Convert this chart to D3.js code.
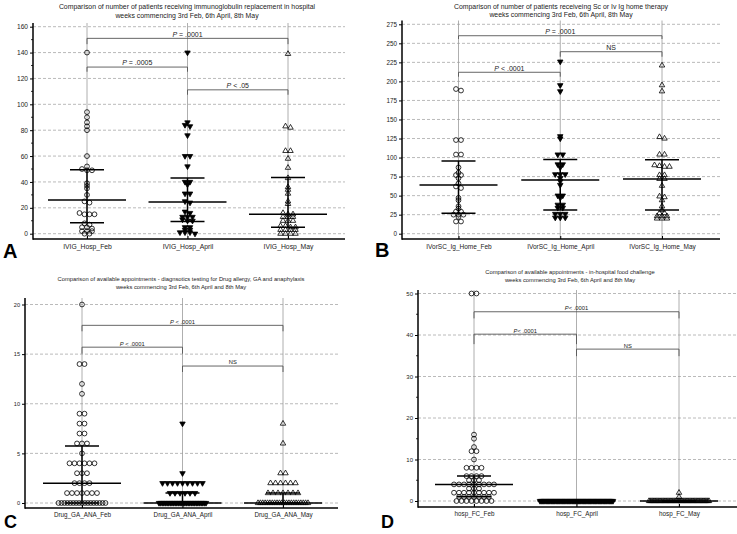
<!DOCTYPE html>
<html><head><meta charset="utf-8">
<script src="https://cdn.jsdelivr.net/npm/d3@7"></script>
<style>
body{margin:0;background:#fff}
svg{display:block}
text{font-family:"Liberation Sans",Arial,Helvetica,sans-serif}
</style>
</head><body>
<svg id="chart" width="737" height="534"></svg>
<script>
// ---------------- DATA ----------------
const catsA = ["IVIG_Hosp_Feb", "IVIG_Hosp_April", "IVIG_Hosp_May"];
const aFeb = [140, 94, 90, 86, 83, 80, 60, 52, 50, 49, 49, 39, 37, 35, 30, 25, 24, 16, 15, 15, 15, 8, 7, 5, 5, 4, 2, 2, 2, 0, 0];
const aApril = [140, 86, 84, 83, 76, 60, 60, 52, 40, 40, 38, 31, 31, 25, 24, 17, 16, 13, 13, 13, 11, 10, 10, 5, 5, 3, 3, 1, 1, 1, 0];
const aMay = [139, 83, 82, 64, 64, 58, 51, 43, 36, 34, 31, 25, 23, 16, 15, 15, 13, 13, 13, 10, 10, 10, 6, 6, 5, 5, 3, 3, 3, 3, 0, 0, 0, 0];
const medianA = [26, 24.5, 15];
const q1A = [8.5, 9.5, 5];
const q3A = [49.5, 43, 43.5];
const ticksA = [0, 20, 40, 60, 80, 100, 120, 140, 160];
const minorA = [10, 30, 50, 70, 90, 110, 130, 150];
const bracketsA = [
  ["IVIG_Hosp_Feb", "IVIG_Hosp_May", 151, 146.5, "P = .0001"],
  ["IVIG_Hosp_Feb", "IVIG_Hosp_April", 128.8, 125.2, "P = .0005"],
  ["IVIG_Hosp_April", "IVIG_Hosp_May", 111.2, 107.4, "P < .05"]
];
const titleA = ["Comparison of number of patients receiving immunoglobulin replacement in hospital",
                "weeks commencing 3rd Feb, 6th April, 8th May"];

const catsB = ["IVorSC_Ig_Home_Feb", "IVorSC_Ig_Home_April", "IVorSC_Ig_Home_May"];
const bFeb = [190, 188, 123, 123, 104, 104, 87, 80, 77, 77, 73, 66, 62, 60, 47, 44, 36, 33, 29, 29, 25, 25, 25, 22, 16, 16];
const bApril = [226, 195, 187, 128, 125, 104, 104, 91, 91, 87, 78, 78, 78, 73, 69, 64, 50, 50, 47, 38, 38, 34, 34, 26, 26, 26, 21, 21, 21];
const bMay = [221, 195, 187, 127, 125, 104, 104, 90, 89, 88, 88, 77, 77, 72, 72, 63, 49, 48, 44, 36, 31, 27, 27, 23, 23, 23, 20, 20, 20];
const medianB = [64, 70.5, 72];
const q1B = [27, 31, 31];
const q3B = [95.5, 97.5, 97];
const ticksB = [0, 25, 50, 75, 100, 125, 150, 175, 200, 225, 250, 275];
const minorB = [];
const bracketsB = [
  ["IVorSC_Ig_Home_Feb", "IVorSC_Ig_Home_May", 260, 255.7, "P = .0001"],
  ["IVorSC_Ig_Home_April", "IVorSC_Ig_Home_May", 239, 232.4, "NS"],
  ["IVorSC_Ig_Home_Feb", "IVorSC_Ig_Home_April", 212, 206.2, "P < .0001"]
];
const titleB = ["Comparison of number of patients receiveing Sc or Iv Ig home therapy",
                "weeks commencing 3rd Feb, 6th April, 8th May"];

// [value, number of points at that value]
const catsC = ["Drug_GA_ANA_Feb", "Drug_GA_ANA_April", "Drug_GA_ANA_May"];
const cFeb = [[20,1],[14,2],[12,1],[11,1],[9,2],[8,2],[7,2],[6,3],[5,1],[4,6],[3,3],[2,4],[1,7],[0,17]];
const cApril = [[8,1],[3,1],[2,9],[1,6],[0,30]];
const cMay = [[8,1],[6,1],[3,2],[2,6],[1,7],[0,22]];
const medianC = [2, 0, 0];
const q1C = [0, 0, 0];
const q3C = [5.75, 1, 1];
const ticksC = [0, 5, 10, 15, 20];
const minorC = [];
const bracketsC = [
  ["Drug_GA_ANA_Feb", "Drug_GA_ANA_May", 17.9, 17.3, "P < .0001"],
  ["Drug_GA_ANA_Feb", "Drug_GA_ANA_April", 15.7, 15.05, "P < .0001"],
  ["Drug_GA_ANA_April", "Drug_GA_ANA_May", 13.8, 13.2, "NS"]
];
const titleC = ["Comparison of available appointments  - diagnsotics testing for Drug allergy, GA and anaphylaxis",
                "weeks commencing 3rd Feb, 6th April and 8th May"];

const catsD = ["hosp_FC_Feb", "hosp_FC_April", "hosp_FC_May"];
const dFeb = [[50,2],[16,1],[15,1],[13,1],[12,2],[10,1],[8,4],[6,4],[5,3],[4,9],[3,3],[2,9],[1,7],[0,8]];
const dApril = [[0,60]];
const dMay = [[2,1],[1,1],[0,50]];
const medianD = [4, 0, 0];
const q1D = [1, 0, 0];
const q3D = [6, 0, 0];
const ticksD = [0, 10, 20, 30, 40, 50];
const minorD = [5, 15, 25, 35, 45];
const bracketsD = [
  ["hosp_FC_Feb", "hosp_FC_May", 45.6, 44, "P< .0001"],
  ["hosp_FC_Feb", "hosp_FC_April", 40.2, 37.8, "P< .0001"],
  ["hosp_FC_April", "hosp_FC_May", 36.6, 34.9, "NS"]
];
const titleD = ["Comparison of available appointments - in-hospital food challenge",
                "weeks commencing 3rd Feb, 6th April and 8th May"];

// ---------------- HELPERS ----------------
const expand = pairs => pairs.flatMap(([v, n]) => Array.from({length: n}, () => v));

const svg = d3.select("#chart");
const markerKinds = ["circle", "down", "up"];

function layoutPoints(vals, cx, y, d, maxW, tol) {
  const pts = vals.map(v => ({v, py: y(v)})).sort((a, b) => a.py - b.py);
  const clusters = [];
  let cur = null;
  pts.forEach(p => {
    if (cur && Math.abs(p.py - cur[0].py) <= tol) cur.push(p);
    else { cur = [p]; clusters.push(cur); }
  });
  const out = [];
  clusters.forEach(c => {
    const n = c.length;
    const s = n > 1 ? Math.min(d, (maxW - d) / (n - 1)) : 0;
    c.forEach((p, i) => out.push({x: cx + (i - (n - 1) / 2) * s, y: p.py}));
  });
  return out;
}

function drawPanel(p) {
  const g = svg.append("g");
  const y = d3.scaleLinear().domain(p.domain).range(p.yRange);
  const x = d3.scalePoint().domain(p.cats).range(p.xRange);

  // horizontal dashed gridlines
  g.append("g").selectAll("line").data(p.ticks).join("line")
    .attr("x1", p.axisX).attr("x2", p.xEnd)
    .attr("y1", d => y(d)).attr("y2", d => y(d))
    .attr("stroke", "#a8a8a8").attr("stroke-width", 0.8).attr("stroke-dasharray", "3,2");

  // vertical category lines
  g.append("g").selectAll("line").data(p.cats).join("line")
    .attr("x1", d => x(d)).attr("x2", d => x(d))
    .attr("y1", p.axisTop).attr("y2", p.axisBottom)
    .attr("stroke", "#9a9a9a").attr("stroke-width", 0.8);

  // brackets
  const bg = g.append("g");
  p.brackets.forEach(([c1, c2, v, dv, label]) => {
    const x1 = x(c1), x2 = x(c2);
    bg.append("path")
      .attr("d", `M${x1},${y(dv)}V${y(v)}H${x2}V${y(dv)}`)
      .attr("fill", "none").attr("stroke", "#555").attr("stroke-width", 0.9);
    const t = bg.append("text").attr("x", (x1 + x2) / 2).attr("y", y(v) - 1.6)
      .attr("text-anchor", "middle").attr("font-size", p.brFont).attr("fill", "#222");
    if (label[0] === "P") {
      t.append("tspan").attr("font-style", "italic").text("P");
      t.append("tspan").text(label.slice(1));
    } else t.text(label);
  });

  // y axis
  const ya = d3.axisLeft(y).tickValues(p.ticks).tickSize(3).tickPadding(2).tickFormat(d3.format("d"));
  const yg = g.append("g").attr("transform", `translate(${p.axisX},0)`).call(ya);
  yg.select(".domain").remove();
  yg.selectAll(".tick line").attr("stroke", "#000").attr("stroke-width", 1);
  yg.selectAll("text").attr("font-size", p.tickFont).attr("fill", "#222")
    .style("font-family", '"Liberation Sans",Arial,sans-serif');
  // minor ticks
  g.append("g").selectAll("line").data(p.minor).join("line")
    .attr("x1", p.axisX - 2).attr("x2", p.axisX)
    .attr("y1", d => y(d)).attr("y2", d => y(d))
    .attr("stroke", "#000").attr("stroke-width", 0.8);
  g.append("line").attr("x1", p.axisX).attr("x2", p.axisX)
    .attr("y1", p.axisTop).attr("y2", p.axisBottom + 0.7)
    .attr("stroke", "#000").attr("stroke-width", 1.5);

  // x axis
  const xa = d3.axisBottom(x).tickSize(-3).tickPadding(p.xPad);
  const xg = g.append("g").attr("transform", `translate(0,${p.axisBottom})`).call(xa);
  xg.select(".domain").remove();
  xg.selectAll(".tick line").attr("stroke", "#000");
  xg.selectAll("text").attr("font-size", p.catFont).attr("fill", "#222")
    .style("font-family", '"Liberation Sans",Arial,sans-serif');
  g.append("line").attr("x1", p.axisX).attr("x2", p.xEnd)
    .attr("y1", p.axisBottom).attr("y2", p.axisBottom)
    .attr("stroke", "#000").attr("stroke-width", 1.5);

  // points
  const pg = g.append("g");
  p.groups.forEach((vals, i) => {
    const cx = x(p.cats[i]);
    const pts = layoutPoints(vals, cx, y, 5, p.maxW[i], 2.2);
    const kind = markerKinds[i];
    if (kind === "circle") {
      pg.append("g").selectAll("circle").data(pts).join("circle")
        .attr("cx", d => d.x).attr("cy", d => d.y).attr("r", 2.4)
        .attr("fill", "none").attr("stroke", "#000").attr("stroke-width", 0.8);
    } else {
      const sym = d3.symbol(d3.symbolTriangle, 13);
      pg.append("g").selectAll("path").data(pts).join("path")
        .attr("d", sym)
        .attr("transform", d => `translate(${d.x},${d.y})` + (kind === "down" ? " rotate(180)" : ""))
        .attr("fill", kind === "down" ? "#000" : "none")
        .attr("stroke", "#000").attr("stroke-width", 0.8);
    }
  });

  // median / quartile lines
  const sg = g.append("g").attr("stroke", "#000").attr("stroke-width", 1.5);
  p.cats.forEach((c, i) => {
    const cx = x(c);
    sg.append("line").attr("x1", cx - 39).attr("x2", cx + 39)
      .attr("y1", y(p.median[i])).attr("y2", y(p.median[i]));
    sg.append("line").attr("x1", cx - 17).attr("x2", cx + 17)
      .attr("y1", y(p.q1[i])).attr("y2", y(p.q1[i]));
    sg.append("line").attr("x1", cx - 17).attr("x2", cx + 17)
      .attr("y1", y(p.q3[i])).attr("y2", y(p.q3[i]));
    sg.append("line").attr("x1", cx).attr("x2", cx)
      .attr("y1", y(p.q1[i])).attr("y2", y(p.q3[i]));
  });

  // title
  p.title.forEach((t, i) => {
    g.append("text").attr("x", p.titleX).attr("y", p.titleY[i])
      .attr("text-anchor", "middle").attr("font-size", p.titleFont).attr("fill", "#222").text(t);
  });

  // panel letter
  g.append("text").attr("x", p.letterPos[0]).attr("y", p.letterPos[1])
    .attr("font-size", p.letterFont).attr("font-weight", "bold").attr("fill", "#000").text(p.letter);
}

// ---------------- PANELS ----------------
drawPanel({
  cats: catsA, groups: [aFeb, aApril, aMay], median: medianA, q1: q1A, q3: q3A,
  ticks: ticksA, minor: minorA, brackets: bracketsA, title: titleA,
  domain: [0, 160], yRange: [233.7, 26.7], xRange: [87, 288],
  axisX: 33, xEnd: 345, axisTop: 23, axisBottom: 239,
  maxW: [40, 40, 40], tickFont: 6.6, catFont: 6.8, xPad: 5, brFont: 7,
  titleX: 187, titleY: [9, 17.5], titleFont: 6.9,
  letter: "A", letterPos: [3, 258], letterFont: 20
});
drawPanel({
  cats: catsB, groups: [bFeb, bApril, bMay], median: medianB, q1: q1B, q3: q3B,
  ticks: ticksB, minor: minorB, brackets: bracketsB, title: titleB,
  domain: [0, 275], yRange: [233.7, 24.3], xRange: [458.5, 662],
  axisX: 402, xEnd: 720, axisTop: 20.5, axisBottom: 239,
  maxW: [40, 40, 40], tickFont: 6.3, catFont: 6.5, xPad: 5, brFont: 7,
  titleX: 561, titleY: [8.5, 17.3], titleFont: 6.9,
  letter: "B", letterPos: [375, 257], letterFont: 20
});
drawPanel({
  cats: catsC, groups: [expand(cFeb), expand(cApril), expand(cMay)], median: medianC, q1: q1C, q3: q3C,
  ticks: ticksC, minor: minorC, brackets: bracketsC, title: titleC,
  domain: [0, 20], yRange: [503, 304.5], xRange: [82, 283],
  axisX: 25, xEnd: 338, axisTop: 298, axisBottom: 508,
  maxW: [52, 52, 55], tickFont: 5.6, catFont: 6.3, xPad: 4.8, brFont: 5.8,
  titleX: 181, titleY: [280.5, 288.8], titleFont: 5.8,
  letter: "C", letterPos: [4, 528], letterFont: 18
});
drawPanel({
  cats: catsD, groups: [expand(dFeb), expand(dApril), expand(dMay)], median: medianD, q1: q1D, q3: q3D,
  ticks: ticksD, minor: minorD, brackets: bracketsD, title: titleD,
  domain: [0, 50], yRange: [501, 293.5], xRange: [474, 679],
  axisX: 418, xEnd: 737, axisTop: 290, axisBottom: 507,
  maxW: [52, 78, 65], tickFont: 6, catFont: 6.3, xPad: 5, brFont: 5.8,
  titleX: 570, titleY: [274, 281.5], titleFont: 5.8,
  letter: "D", letterPos: [381, 528], letterFont: 18
});
</script>
</body></html>
